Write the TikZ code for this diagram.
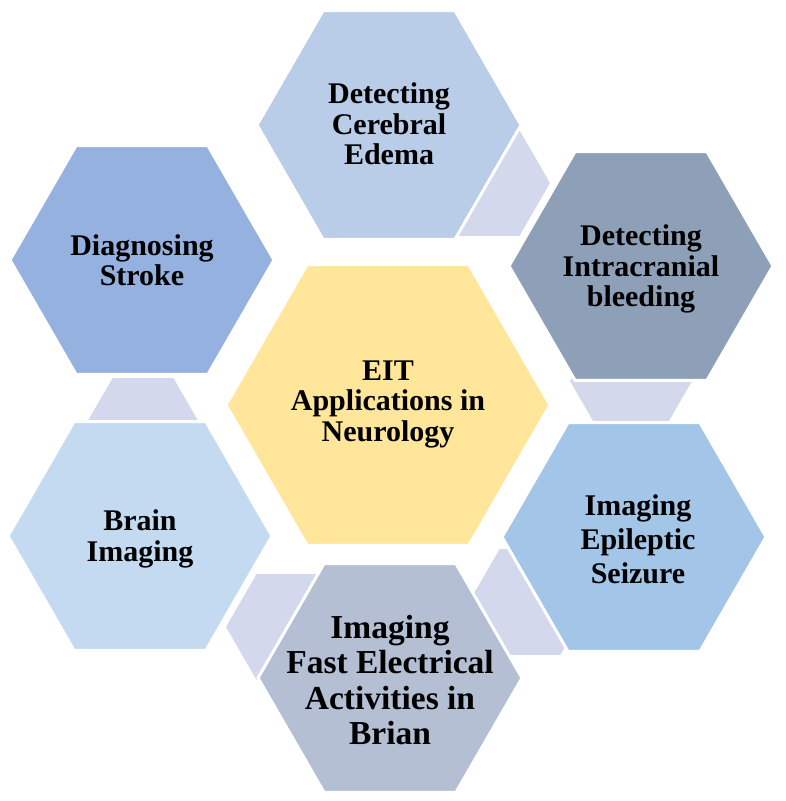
\documentclass[tikz,border=0pt]{standalone}
\usepackage{fontspec}
\setmainfont{Liberation Serif}
\usepackage{tikz}
\usetikzlibrary{shapes.geometric}
\definecolor{paleblue}{HTML}{B9CCE8}
\definecolor{midblue}{HTML}{95B1E0}
\definecolor{slate}{HTML}{8EA0B8}
\definecolor{skyblue}{HTML}{C3DAF0}
\definecolor{softblue}{HTML}{A2C5E8}
\definecolor{greyblue}{HTML}{B4BFD3}
\definecolor{butter}{HTML}{FFE69A}
\definecolor{lilac}{HTML}{D4D8EC}

\begin{document}
\begin{tikzpicture}[
  x=1pt, y=-1pt,
  hexa/.style={regular polygon, regular polygon sides=6, minimum size=264pt, inner sep=0pt, draw=white, line width=3pt},
  link/.style={regular polygon, regular polygon sides=6, minimum size=122pt, inner sep=0pt, fill=lilac},
  txt/.style={align=center, text=black, font=\bfseries\fontsize{30}{30.5}\selectfont}
]
\useasboundingbox (0,0) rectangle (786,801);
% small hexagons behind the ring
\node[link] (l1) at (489,183) {};
\node[link] (l2) at (631,381) {};
\node[link] (l3) at (530,602) {};
\node[link] (l4) at (287,627) {};
\node[link] (l5) at (143,431) {};
% outer ring
\node[hexa, fill=paleblue] (edema) at (389,125) {};
\node[hexa, fill=midblue] (stroke) at (142,260) {};
\node[hexa, fill=slate] (bleed) at (641,266) {};
\node[hexa, fill=skyblue] (brain) at (140,536) {};
\node[hexa, fill=softblue] (seizure) at (634,537) {};
\node[hexa, fill=greyblue] (fast) at (390,678) {};
% centre
\node[hexa, fill=butter, minimum size=324pt] (eit) at (388,405) {};
% texts
\node[txt] (edema-t) at ([yshift=1pt]edema) {Detecting\\Cerebral\\Edema};
\node[txt] (stroke-t) at (stroke) {Diagnosing\\Stroke};
\node[txt] (bleed-t) at ([yshift=-3pt]bleed) {Detecting\\Intracranial\\bleeding};
\node[txt] (brain-t) at ([yshift=-3pt]brain) {Brain\\Imaging};
\node[txt, font=\bfseries\fontsize{30}{34}\selectfont] (seizure-t) at ([xshift=4pt,yshift=-2pt]seizure) {Imaging\\Epileptic\\Seizure};
\node[txt, font=\bfseries\fontsize{33.5}{35.5}\selectfont] (fast-t) at ([yshift=-2pt]fast) {Imaging\\Fast Electrical\\Activities in\\Brian};
\node[txt] (eit-t) at ([yshift=1pt]eit) {EIT\\Applications in\\Neurology};
\end{tikzpicture}
\end{document}
